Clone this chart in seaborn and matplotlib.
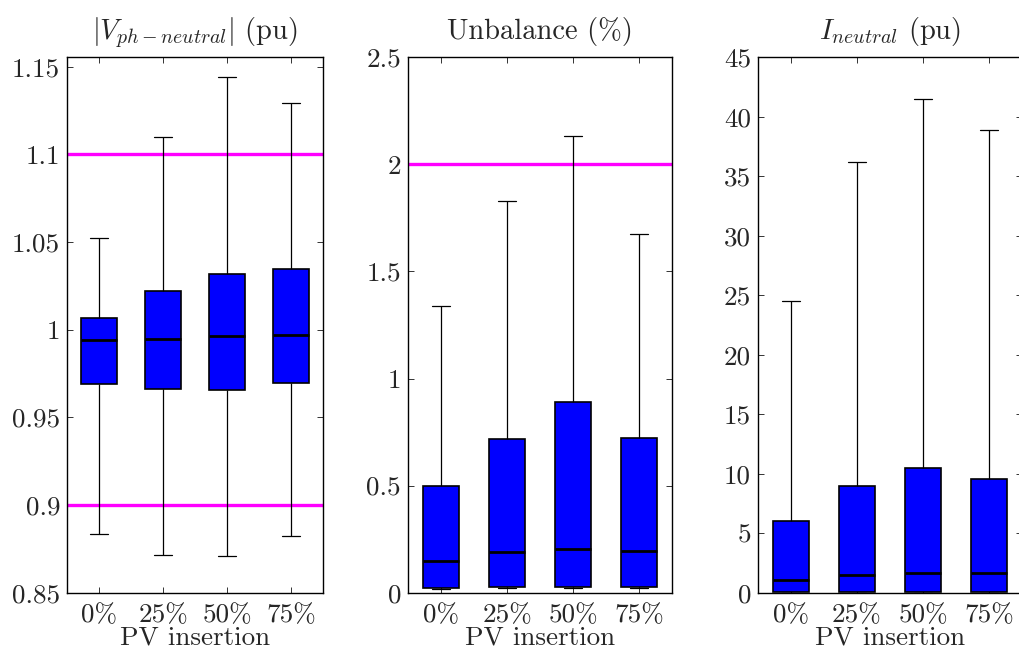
import numpy as np
import pandas as pd
import matplotlib
matplotlib.use("Agg")
import matplotlib.pyplot as plt
from matplotlib.ticker import FuncFormatter
import seaborn as sns

# PV insertion levels
pv_levels = ['0%', '25%', '50%', '75%']

# |V ph-neutral| (pu): lower whisker, q1, median, q3, upper whisker
volt_lo = [0.8833, 0.8717, 0.8709, 0.8824]
volt_q1 = [0.9690, 0.9661, 0.9655, 0.9697]
volt_med = [0.9939, 0.9950, 0.9962, 0.9968]
volt_q3 = [1.0068, 1.0224, 1.0321, 1.0347]
volt_hi = [1.0524, 1.1098, 1.1442, 1.1294]
volt_limits = [0.9, 1.1]

# Unbalance (%)
unb_lo = [0.018, 0.021, 0.021, 0.023]
unb_q1 = [0.022, 0.025, 0.025, 0.027]
unb_med = [0.146, 0.188, 0.202, 0.193]
unb_q3 = [0.500, 0.716, 0.889, 0.723]
unb_hi = [1.338, 1.830, 2.130, 1.673]
unb_limits = [2.0]

# I neutral (pu)
ineu_lo = [0.0, 0.0, 0.0, 0.0]
ineu_q1 = [0.05, 0.05, 0.05, 0.05]
ineu_med = [1.07, 1.46, 1.68, 1.66]
ineu_q3 = [6.03, 8.94, 10.45, 9.55]
ineu_hi = [24.51, 36.19, 41.51, 38.86]
ineu_limits = []

titles = [r'$|V_{ph-neutral}|$ (pu)', 'Unbalance (%)', r'$I_{neutral}$ (pu)']
yticks = [np.arange(0.85, 1.151, 0.05), np.arange(0, 2.51, 0.5), np.arange(0, 45.1, 5)]
ylims = [(0.85, 1.1555), (0, 2.5), (0, 45)]


def to_frame(lo, q1, med, q3, hi):
    rows = []
    for i, lvl in enumerate(pv_levels):
        for v in (lo[i], q1[i], med[i], q3[i], hi[i]):
            rows.append({'pv': lvl, 'value': v})
    return pd.DataFrame(rows)


panels = [
    (to_frame(volt_lo, volt_q1, volt_med, volt_q3, volt_hi), volt_limits),
    (to_frame(unb_lo, unb_q1, unb_med, unb_q3, unb_hi), unb_limits),
    (to_frame(ineu_lo, ineu_q1, ineu_med, ineu_q3, ineu_hi), ineu_limits),
]

sns.set_style('ticks')
plt.rcParams['font.family'] = ['cmr10', 'DejaVu Serif']
plt.rcParams['mathtext.fontset'] = 'cm'
plt.rcParams['axes.formatter.use_mathtext'] = True

W, H = 1020, 653
fig = plt.figure(figsize=(W / 100, H / 100), dpi=100)
boxes = [(67, 256), (408, 264), (758, 264)]
top_px, bot_px = 57.2, 592.7

for k, (df, limits) in enumerate(panels):
    left, width = boxes[k]
    ax = fig.add_axes([left / W, 1 - bot_px / H, width / W, (bot_px - top_px) / H])
    for lim in limits:
        ax.axhline(lim, color='#ff00ff', lw=2.4, zorder=1)
    sns.boxplot(data=df, x='pv', y='value', ax=ax, color='#0000ff', saturation=1,
                width=0.56, whis=(0, 100), linecolor='black', linewidth=1.0,
                medianprops={'color': 'black', 'linewidth': 2.0},
                boxprops={'edgecolor': 'black', 'linewidth': 1.2},
                whiskerprops={'color': 'black', 'linewidth': 0.9},
                capprops={'color': 'black', 'linewidth': 0.9})
    ax.set_xlim(-0.5, 3.5)
    ax.set_ylim(*ylims[k])
    ax.set_yticks(yticks[k])
    ax.yaxis.set_major_formatter(FuncFormatter(lambda v, p: '{:g}'.format(round(v, 4))))
    ax.set_title(titles[k], fontsize=20.5, pad=13)
    ax.set_xlabel('PV insertion', fontsize=19.5, labelpad=-1)
    ax.set_ylabel('')
    ax.tick_params(direction='in', length=4.5, width=0.7, top=True, right=True,
                   labelsize=19.5, color='#333333')
    ax.tick_params(axis='x', pad=8)
    ax.tick_params(axis='y', pad=5)
    for s in ax.spines.values():
        s.set_visible(True)
        s.set_linewidth(1.0)
        s.set_color('black')

fig.savefig('out.png', dpi=100)
